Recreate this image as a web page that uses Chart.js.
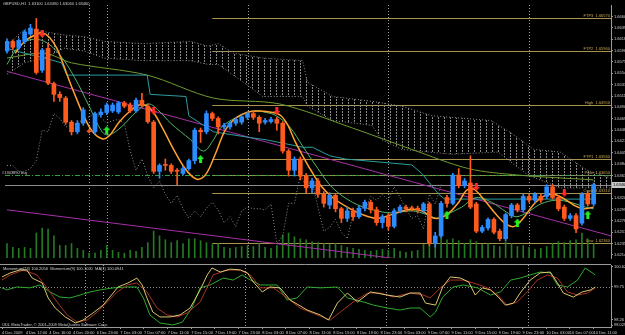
<!DOCTYPE html>
<html>
<head>
<meta charset="utf-8">
<script src="https://cdn.jsdelivr.net/npm/chart.js@4.4.0/dist/chart.umd.min.js"></script>
<style>
  html, body { margin: 0; padding: 0; background: #000; }
  #wrap { position: relative; width: 625px; height: 335px; background: #000; overflow: hidden; }
  canvas { position: absolute; left: 0; }
  #main { top: 0; }
  #mom { top: 264px; }
</style>
</head>
<body>
<div id="wrap">
  <canvas id="main" width="625" height="263"></canvas>
  <canvas id="mom" width="625" height="71"></canvas>
</div>
<script>
// GBPUSD H1 candles, bar 0 = 4 Dec 08:00
const openP = [1.6596,1.6614,1.6603,1.6614,1.6628,1.6637,1.6560,1.6601,1.6535,1.6515,
  1.6508,1.6463,1.6445,1.6461,1.6446,1.6445,1.6477,1.6481,1.6484,1.6482,
  1.6499,1.6495,1.6484,1.6504,1.6493,1.6463,1.6371,1.6383,1.6382,1.6373,
  1.6367,1.6376,1.6391,1.6448,1.6445,1.6479,1.6470,1.6454,1.6454,1.6461,
  1.6463,1.6472,1.6479,1.6472,1.6463,1.6464,1.6468,1.6461,1.6409,1.6373,
  1.6394,1.6362,1.6340,1.6353,1.6328,1.6308,1.6326,1.6301,1.6283,1.6297,
  1.6286,1.6302,1.6313,1.6299,1.6275,1.6286,1.6268,1.6297,1.6304,1.6302,
  1.6302,1.6297,1.6310,1.6236,1.6250,1.6322,1.6311,1.6364,1.6344,1.6349,
  1.6310,1.6259,1.6265,1.6281,1.6259,1.6245,1.6288,1.6308,1.6299,1.6324,
  1.6317,1.6324,1.6324,1.6342,1.6322,1.6304,1.6283,1.6288,1.6274,1.6329,
  1.6310];
const highP = [1.6619,1.6617,1.6619,1.6635,1.6646,1.6657,1.6601,1.6610,1.6538,1.6520,
  1.6511,1.6466,1.6466,1.6490,1.6450,1.6482,1.6488,1.6499,1.6499,1.6502,
  1.6502,1.6499,1.6508,1.6517,1.6497,1.6466,1.6385,1.6394,1.6385,1.6376,
  1.6380,1.6394,1.6452,1.6452,1.6484,1.6482,1.6473,1.6461,1.6464,1.6472,
  1.6477,1.6482,1.6484,1.6475,1.6470,1.6472,1.6472,1.6464,1.6412,1.6398,
  1.6398,1.6367,1.6358,1.6358,1.6333,1.6331,1.6329,1.6304,1.6304,1.6302,
  1.6306,1.6317,1.6317,1.6304,1.6290,1.6292,1.6301,1.6308,1.6308,1.6306,
  1.6306,1.6313,1.6313,1.6257,1.6315,1.6326,1.6367,1.6376,1.6358,1.6400,
  1.6313,1.6270,1.6284,1.6284,1.6263,1.6293,1.6311,1.6311,1.6328,1.6328,
  1.6331,1.6328,1.6346,1.6346,1.6326,1.6308,1.6292,1.6292,1.6331,1.6333,
  1.6349];
const lowP = [1.6592,1.6599,1.6599,1.6610,1.6625,1.6553,1.6556,1.6533,1.6502,1.6502,
  1.6459,1.6439,1.6441,1.6457,1.6443,1.6441,1.6473,1.6477,1.6481,1.6479,
  1.6490,1.6481,1.6481,1.6491,1.6461,1.6367,1.6358,1.6373,1.6367,1.6346,
  1.6364,1.6373,1.6385,1.6425,1.6441,1.6466,1.6441,1.6450,1.6450,1.6457,
  1.6459,1.6468,1.6468,1.6445,1.6459,1.6461,1.6448,1.6405,1.6362,1.6362,
  1.6355,1.6331,1.6331,1.6322,1.6304,1.6301,1.6295,1.6275,1.6277,1.6279,
  1.6283,1.6297,1.6293,1.6270,1.6265,1.6261,1.6265,1.6293,1.6295,1.6297,
  1.6293,1.6293,1.6232,1.6229,1.6247,1.6304,1.6308,1.6340,1.6340,1.6301,
  1.6256,1.6256,1.6261,1.6254,1.6241,1.6241,1.6284,1.6295,1.6295,1.6313,
  1.6313,1.6313,1.6320,1.6319,1.6297,1.6279,1.6279,1.6256,1.6270,1.6306,
  1.6306];
const closeP = [1.6614,1.6603,1.6616,1.6632,1.6639,1.6556,1.6598,1.6536,1.6515,1.6509,
  1.6463,1.6445,1.6461,1.6486,1.6445,1.6479,1.6482,1.6495,1.6495,1.6499,
  1.6493,1.6484,1.6504,1.6495,1.6464,1.6371,1.6382,1.6382,1.6371,1.6371,
  1.6376,1.6391,1.6448,1.6445,1.6479,1.6470,1.6454,1.6457,1.6461,1.6468,
  1.6473,1.6479,1.6472,1.6461,1.6466,1.6468,1.6461,1.6409,1.6373,1.6394,
  1.6362,1.6340,1.6353,1.6328,1.6311,1.6326,1.6301,1.6283,1.6297,1.6286,
  1.6302,1.6313,1.6299,1.6275,1.6286,1.6268,1.6297,1.6304,1.6301,1.6301,
  1.6299,1.6310,1.6236,1.6250,1.6311,1.6311,1.6364,1.6344,1.6353,1.6304,
  1.6259,1.6266,1.6281,1.6257,1.6245,1.6290,1.6308,1.6299,1.6324,1.6317,
  1.6328,1.6317,1.6342,1.6322,1.6301,1.6283,1.6288,1.6263,1.6328,1.6310,
  1.6346];
const volume = [1500,1100,1000,1100,1000,2600,3100,3000,2300,1300,
  1300,1500,1000,800,500,500,800,1300,800,600,
  500,800,700,1100,1600,2800,2300,1900,1600,1800,
  1500,2000,2000,1800,1600,1400,1500,1100,1000,1100,
  1200,1300,1200,1500,1100,1000,1300,2400,2600,2200,
  2000,1900,1700,1600,1500,1400,1500,1300,1100,1000,
  900,800,700,800,900,800,1000,700,600,700,
  800,1400,2600,2300,2100,1900,2000,1800,1500,1900,
  1700,1400,1500,1300,1200,1700,1500,1200,1300,1100,
  900,1000,1200,1500,1700,1600,1800,1900,2600,2000,
  1500];

// lagging span, drawn from bar 0
const chikou = [1.6382,1.6382,1.6371,1.6371,1.6376,1.6391,1.6448,1.6445,1.6479,1.6470,
  1.6454,1.6457,1.6461,1.6468,1.6473,1.6479,1.6472,1.6461,1.6466,1.6468,
  1.6461,1.6409,1.6373,1.6394,1.6362,1.6340,1.6353,1.6328,1.6311,1.6326,
  1.6301,1.6283,1.6297,1.6286,1.6302,1.6313,1.6299,1.6275,1.6286,1.6268,
  1.6297,1.6304,1.6301,1.6301,1.6299,1.6310,1.6236,1.6250,1.6311,1.6311,
  1.6364,1.6344,1.6353,1.6304,1.6259,1.6266,1.6281,1.6257,1.6245,1.6290,
  1.6308,1.6299,1.6324,1.6317,1.6328,1.6317,1.6342,1.6322,1.6301,1.6283,
  1.6288,1.6263,1.6328,1.6310,1.6346];

// indicator lines, read at bar positions
const orangeX = [1.4,3,5.1,6.1,7.3,8.5,9.5,10.7,11.8,13.2,14.6,16.2,17.4,19.1,20.8,22.5,23.9,25,26.7,28.4,30.1,31.5,32.7,34,35.5,37.2,38.9,41.1,43.1,45.3,46.7,47.9,49.1,50.4,51.8,53.5,55.5,58,60.6,63.1,65.6,68.2,70.7,72.9,75,77,78.3,79.5,81.4,83.4,85.1,86.5,88,89.7,91.4,93.2,94.9,96.6,98.3,100];
const orangeY = [1.6592,1.6614,1.6628,1.6630,1.6621,1.6601,1.6574,1.6538,1.6508,1.6472,1.6445,1.6432,1.6437,1.6463,1.6482,1.6495,1.6493,1.6481,1.6448,1.6412,1.6380,1.6362,1.6356,1.6367,1.6403,1.6448,1.6470,1.6482,1.6484,1.6481,1.6475,1.6457,1.6427,1.6400,1.6373,1.6344,1.6322,1.6304,1.6290,1.6283,1.6290,1.6299,1.6297,1.6283,1.6290,1.6313,1.6335,1.6338,1.6317,1.6290,1.6272,1.6268,1.6283,1.6308,1.6324,1.6328,1.6320,1.6308,1.6301,1.6304];
const greenX = [0,1.7,3.9,6.4,9,11.5,14,16.2,17.4,19.5,22.2,24.2,25.9,27.9,31.3,33.5,35.2,36.4,39.1,42,44.2,45.9,48.2,50.4,53,55.5,58.9,62.3,65.7,69,71.6,73.3,75.3,77.5,80,82.6,85.1,86.8,88.8,91,93.6,96.1,98.6,100];
const greenY = [1.6571,1.6601,1.6617,1.6614,1.6589,1.6547,1.6493,1.6445,1.6439,1.6454,1.6484,1.6497,1.6484,1.6461,1.6430,1.6409,1.6430,1.6452,1.6472,1.6484,1.6481,1.6475,1.6454,1.6418,1.6376,1.6340,1.6313,1.6299,1.6293,1.6297,1.6290,1.6283,1.6292,1.6304,1.6322,1.6313,1.6295,1.6286,1.6295,1.6310,1.6317,1.6313,1.6304,1.6301];
const tealX = [0,3,6.4,9.3,10.2,23.9,24.4,30.5,31,33.5,35.2,41.5,44.2,50.4,52.1,55,57.7,69,70.7,73.6,74.6,100];
const tealY = [1.6601,1.6592,1.6583,1.6574,1.6551,1.6551,1.6515,1.6511,1.6475,1.6457,1.6445,1.6434,1.6430,1.6416,1.6416,1.6400,1.6394,1.6383,1.6367,1.6328,1.6319,1.6319];
const oliveX = [0,6.4,11,23.9,35.2,46.5,58.9,69,78.7,87.1,100];
const oliveY = [1.6583,1.6592,1.6574,1.6551,1.6508,1.6497,1.6452,1.6412,1.6376,1.6364,1.6355];
const trendX = [0, 103];
const trendA = [1.6558, 1.6250];
const trendB = [1.6299, 1.6157];
const cloudTopX = [0,3,6.4,9.8,13.2,16.6,23.3,31.3,34.3,36,38.6,43.6,50.4,51.2,55.5,62.2,67.3,72.4,82.5,85.9,89.8,94.3,98.9,103];
const cloudTop = [1.6607,1.6637,1.6632,1.6626,1.6623,1.6614,1.6610,1.6614,1.6605,1.6610,1.6592,1.6583,1.6578,1.6538,1.6511,1.6502,1.6493,1.6475,1.6466,1.6443,1.6412,1.6407,1.6373,1.6358];
const cloudBotX = [0,3,6.4,9.8,13.2,16.6,23.3,31.3,34.3,36,41.4,43.6,50.4,51.2,55.5,62.2,63.9,67.3,75.8,83.7,88.8,94.3,103];
const cloudBot = [1.6553,1.6574,1.6583,1.6601,1.6596,1.6583,1.6578,1.6578,1.6571,1.6571,1.6529,1.6511,1.6511,1.6493,1.6466,1.6457,1.6430,1.6412,1.6403,1.6407,1.6364,1.6340,1.6340];
const upArrowX = [17, 33, 75, 87, 99];
const upArrowY = [1.6448, 1.6394, 1.6290, 1.6275, 1.6290];
const downArrowX = [6, 25, 46, 80, 95];
const downArrowY = [1.6628, 1.6484, 1.6484, 1.6342, 1.6331];

// horizontal levels
const levelName = ['FTP3', 'FTP2', 'High', 'FTP1', 'Pivot', 'Open', 'Low'];
const levelPrice = [1.6657, 1.6596, 1.6495, 1.6394, 1.6365, 1.6331, 1.6236];
const levelStart = 35;
const orderPrice = 1.6364;
const bidPrice = 1.6346;
const sepIdx = [14, 17, 41, 65, 89];

// momentum window
const momKhakiX = [0,1.4,3,4.2,5.1,6.8,7.8,9,10.7,12.4,13.7,15.4,17.1,18.8,19.6,21.3,22.8,23.7,24.5,25.5,26.7,28.4,30.1,31.8,33.5,34.7,35.5,36.9,38.6,40.3,41.5,42.5,44,45.3,47,48.7,51.6,53.8,55.2,56.7,58.4,60.1,62.3,65.1,67.3,69,70.7,71.6,73.3,74.5,75.8,77.5,78.9,80,81.2,82.6,83.9,85.1,86.5,87.6,89.3,91,92.7,93.9,94.9,96.6,98.1,99.5,100.3];
const momKhakiY = [100.18,100.36,100.49,100.49,100.13,99.91,99.24,98.79,98.39,98.12,98.25,98.57,98.92,99.46,99.73,99.91,100.13,99.82,99.24,98.61,98.39,98.39,98.48,98.79,99.60,100.27,100.58,100.40,100.53,100.49,100.36,99.95,99.51,99.73,99.69,99.15,98.70,98.48,98.25,99.01,99.46,99.06,99.51,99.37,99.28,99.46,99.46,99.01,98.92,99.73,100.18,100.13,99.95,99.37,99.69,99.60,99.28,98.92,99.01,99.46,100.04,100.36,100.40,99.91,99.46,99.28,99.51,99.60,99.73];
const momRedX = [0,1.4,3.6,5.9,7.6,9.3,11,12.7,14.4,16.1,17.8,19.5,21.2,22.8,24.5,26.2,27.9,29.6,31.3,33.5,35.7,38.1,40.3,42,43.7,45.9,48.2,50.4,53.3,55.5,57.2,59.4,61.8,64,66.2,69,71.2,72.4,74.1,75.8,78,79.7,82.1,83.8,85.4,87.1,88.8,90.5,92.2,93.9,95.6,97.3,99,100.3];
const momRedY = [100.04,100.27,100.49,100.27,99.69,99.06,98.48,98.16,98.25,98.61,99.06,99.51,99.82,99.91,99.51,98.79,98.48,98.39,98.57,99.06,100.27,100.49,100.49,100.27,99.69,99.69,99.24,98.79,98.48,98.25,98.61,99.06,99.46,99.46,99.28,99.46,99.37,99.24,99.69,100.04,100.04,99.91,99.69,99.37,98.92,99.06,99.51,100.04,100.27,100.13,99.51,99.37,99.46,99.69];
const momGreenX = [0,0.8,2.5,4.7,6.4,8.1,9.8,11.5,13.2,14.9,16.6,18.8,21.2,22.8,23.9,25,26.7,28.9,30.5,32.1,33.5,35.2,37.4,39.1,40.6,42,43.7,46.5,48.2,49.9,51.6,53.8,56.7,58.4,61.1,62.8,65.1,67.3,69,70.7,72.4,73.3,74.5,76.3,78,80.4,82.6,84.3,86,87.6,89.3,91,92.7,93.9,95.6,97.3,98.6,100.3];
const momGreenY = [99.69,99.60,99.73,99.69,99.82,99.51,99.28,99.24,99.37,99.51,99.60,99.69,99.73,99.73,99.24,98.48,98.12,98.03,98.16,98.79,99.69,99.82,100.13,100.04,100.27,100.04,99.82,99.82,99.15,99.24,99.73,99.69,99.73,99.24,99.06,98.92,98.79,98.70,98.79,98.79,98.39,98.61,99.28,99.73,99.82,99.69,99.37,99.51,100.04,100.13,100.27,100.40,100.36,99.82,99.73,100.04,100.58,100.27];
const momLevel = 99.75;

// axis ticks
const priceTicks = [1.66606,1.66394,1.66181,1.65969,1.65756,1.65544,1.65332,1.65119,1.64907,1.64694,1.64482,1.64270,1.64057,1.63845,1.63632,1.63420,1.63208,1.62995,1.62783,1.62570,1.62358,1.62146];
const momTicks = [100.6247, 99.75, 98.26, 98.0292];
const timeIdx = [0,4,8,12,16,20,24,28,32,36,40,44,48,52,56,60,64,68,72,76,80,84,88,92,96,100];
const timeText = ['4 Dec 2009','4 Dec 12:00','4 Dec 16:00','4 Dec 20:00','6 Dec 23:00','7 Dec 03:00','7 Dec 07:00','7 Dec 11:00','7 Dec 15:00','7 Dec 19:00','7 Dec 23:00','8 Dec 03:00','8 Dec 07:00','8 Dec 11:00','8 Dec 15:00','8 Dec 19:00','8 Dec 23:00','9 Dec 03:00','9 Dec 07:00','9 Dec 11:00','9 Dec 15:00','9 Dec 19:00','9 Dec 23:00','10 Dec 03:00','10 Dec 07:00','10 Dec 11:00'];

const titleText = 'GBPUSD,H1  1.63100 1.63490 1.63060 1.63460';
const momTitle = 'Momentum(24) 100.2056  Momentum(9) 100.1020  MA(1) 100.0941';
const orderText = '#1303890 buy';
const copyText = 'ODL MetaTrader, \u00a9 2001-2009 MetaQuotes Software Corp.';

const X_MIN = -0.34, X_MAX = 102.96;
const P_MIN = 1.62088, P_MAX = 1.66822;
const M_MIN = 97.94, M_MAX = 100.714;

const FONT = '"Liberation Sans", Arial, sans-serif';
const TXT = '#d0d0d0';
const AXIS = '#9a9a9a';
const UP = '#2a8cff';
const DOWN = '#ff5a1e';
Chart.defaults.font.family = FONT;
Chart.defaults.font.size = 4;
Chart.defaults.color = TXT;

function pts(xs, ys) {
  return xs.map((x, i) => ({x: x, y: ys[i]}));
}

function line(xs, ys, color, extra) {
  return Object.assign({
    type: 'line', data: pts(xs, ys), borderColor: color, borderWidth: 1,
    pointRadius: 0, tension: 0, fill: false
  }, extra || {});
}

function arrowIcon(color, up) {
  const c = document.createElement('canvas');
  c.width = 7; c.height = 8;
  const g = c.getContext('2d');
  g.fillStyle = color;
  g.beginPath();
  if (up) {
    g.moveTo(3.5, 0); g.lineTo(7, 4); g.lineTo(0, 4); g.closePath(); g.fill();
    g.fillRect(2, 4, 3, 4);
  } else {
    g.moveTo(3.5, 8); g.lineTo(7, 4); g.lineTo(0, 4); g.closePath(); g.fill();
    g.fillRect(2, 0, 3, 4);
  }
  return c;
}

const mainCanvas = document.getElementById('main');
const hatchCanvas = document.createElement('canvas');
hatchCanvas.width = 6; hatchCanvas.height = 3;
const hg = hatchCanvas.getContext('2d');
hg.fillStyle = '#8c8c8c';
hg.fillRect(0, 0, 1, 2);
const hatch = mainCanvas.getContext('2d').createPattern(hatchCanvas, 'repeat');

const idx = openP.map((_, i) => i);
const candleColor = idx.map(i => closeP[i] >= openP[i] ? UP : DOWN);

function vSeparators(chart) {
  const {ctx, chartArea: a, scales: {x}} = chart;
  ctx.save();
  ctx.strokeStyle = '#a0a0a0';
  ctx.lineWidth = 1;
  ctx.setLineDash([1, 2]);
  sepIdx.forEach(i => {
    const px = Math.round(x.getPixelForValue(i)) + 0.5;
    ctx.beginPath(); ctx.moveTo(px, a.top); ctx.lineTo(px, a.bottom); ctx.stroke();
  });
  ctx.restore();
}

const mainDecor = {
  id: 'mainDecor',
  beforeDatasetsDraw(chart) {
    const {ctx, chartArea: a, scales: {x, y}} = chart;
    vSeparators(chart);
    ctx.save();
    ctx.lineWidth = 1;
    ctx.strokeStyle = '#a8924e';
    const x0 = x.getPixelForValue(levelStart);
    levelPrice.forEach(p => {
      const py = Math.round(y.getPixelForValue(p)) + 0.5;
      ctx.beginPath(); ctx.moveTo(x0, py); ctx.lineTo(a.right, py); ctx.stroke();
    });
    let py = Math.round(y.getPixelForValue(orderPrice)) + 0.5;
    ctx.strokeStyle = '#2f9e44';
    ctx.setLineDash([5, 2, 1, 2]);
    ctx.beginPath(); ctx.moveTo(a.left, py); ctx.lineTo(a.right, py); ctx.stroke();
    py = Math.round(y.getPixelForValue(bidPrice)) + 0.5;
    ctx.setLineDash([]);
    ctx.strokeStyle = '#8c8c8c';
    ctx.beginPath(); ctx.moveTo(a.left, py); ctx.lineTo(a.right, py); ctx.stroke();
    ctx.restore();
  },
  afterDraw(chart) {
    const {ctx, chartArea: a, scales: {y}} = chart;
    ctx.save();
    ctx.font = '4px ' + FONT;
    ctx.fillStyle = TXT;
    ctx.textBaseline = 'top';
    ctx.fillText(titleText, 3, 2);
    ctx.textBaseline = 'bottom';
    ctx.fillText(orderText, 2, Math.round(y.getPixelForValue(orderPrice)));
    ctx.fillStyle = '#c8a850';
    ctx.textAlign = 'right';
    levelPrice.forEach((p, i) => {
      ctx.fillText(levelName[i] + '  ' + p.toFixed(5), a.right - 1, Math.round(y.getPixelForValue(p)));
    });
    const py = Math.round(y.getPixelForValue(bidPrice));
    ctx.fillStyle = '#c8c8c8';
    ctx.fillRect(a.right + 1, py - 3, 14, 6);
    ctx.fillStyle = '#000';
    ctx.textAlign = 'left';
    ctx.textBaseline = 'middle';
    ctx.fillText(bidPrice.toFixed(5), a.right + 2, py);
    ctx.restore();
  }
};

const momDecor = {
  id: 'momDecor',
  beforeDatasetsDraw(chart) {
    const {ctx, chartArea: a, scales: {y}} = chart;
    vSeparators(chart);
    ctx.save();
    ctx.strokeStyle = AXIS;
    ctx.lineWidth = 1;
    ctx.beginPath(); ctx.moveTo(0, 0.5); ctx.lineTo(a.right, 0.5); ctx.stroke();
    ctx.strokeStyle = '#8a8a8a';
    ctx.setLineDash([1, 2]);
    const py = Math.round(y.getPixelForValue(momLevel)) + 0.5;
    ctx.beginPath(); ctx.moveTo(a.left, py); ctx.lineTo(a.right, py); ctx.stroke();
    ctx.restore();
  },
  afterDraw(chart) {
    const {ctx} = chart;
    ctx.save();
    ctx.font = '4px ' + FONT;
    ctx.fillStyle = TXT;
    ctx.textBaseline = 'top';
    ctx.fillText(momTitle, 3, 2.5);
    ctx.textBaseline = 'bottom';
    ctx.fillText(copyText, 2, 62.5);
    ctx.restore();
  }
};

const yRight = (min, max, ticks, fmt) => ({
  position: 'right', min: min, max: max,
  afterFit: s => { s.width = 14; s.paddingTop = 0; s.paddingBottom = 0; },
  afterBuildTicks: s => { s.ticks = ticks.map(v => ({value: v})); },
  ticks: {autoSkip: false, padding: 1, color: TXT, callback: fmt},
  grid: {drawOnChartArea: false, tickLength: 2, color: AXIS},
  border: {color: AXIS}
});

new Chart(mainCanvas, {
  type: 'line',
  data: {
    datasets: [
      {type: 'scatter', data: pts(upArrowX, upArrowY), pointStyle: arrowIcon('#22ee22', true), pointRadius: 4, order: 0},
      {type: 'scatter', data: pts(downArrowX, downArrowY), pointStyle: arrowIcon('#ff2a2a', false), pointRadius: 4, order: 0},
      {type: 'bar', data: idx.map(i => ({x: i, y: [openP[i], closeP[i]]})), backgroundColor: candleColor,
        barThickness: 4, minBarLength: 1, grouped: false, borderWidth: 0, order: 1},
      {type: 'bar', data: idx.map(i => ({x: i, y: [lowP[i], highP[i]]})), backgroundColor: candleColor,
        barThickness: 1, grouped: false, borderWidth: 0, order: 2},
      line(orangeX, orangeY, '#ffa030', {tension: 0.35, borderWidth: 1.5, order: 3}),
      line(greenX, greenY, '#4fb86a', {tension: 0.35, order: 4}),
      line(tealX, tealY, '#2a9e9e', {order: 5}),
      line(oliveX, oliveY, '#6f9a2e', {tension: 0.3, order: 6}),
      line(idx.slice(0, chikou.length), chikou, '#8c8c8c', {borderDash: [1, 2], order: 7}),
      line(trendX, trendA, '#a62fa6', {order: 8}),
      line(trendX, trendB, '#a62fa6', {order: 8}),
      {type: 'bar', yAxisID: 'yv', data: idx.map(i => ({x: i, y: volume[i]})), backgroundColor: '#237a23',
        barThickness: 1, grouped: false, borderWidth: 0, order: 9},
      line(cloudTopX, cloudTop, '#8c8c8c', {borderDash: [1, 2], fill: '+1', backgroundColor: hatch, order: 10}),
      line(cloudBotX, cloudBot, '#8c8c8c', {borderDash: [1, 2], order: 11})
    ]
  },
  options: {
    animation: false, responsive: false, events: [],
    layout: {padding: 0},
    plugins: {legend: {display: false}, tooltip: {enabled: false}},
    scales: {
      x: {type: 'linear', min: X_MIN, max: X_MAX, display: false, offset: false},
      y: yRight(P_MIN, P_MAX, priceTicks, v => v.toFixed(5)),
      yv: {type: 'linear', axis: 'y', display: false, min: 0, max: 26300}
    }
  },
  plugins: [mainDecor]
});

new Chart(document.getElementById('mom'), {
  type: 'line',
  data: {
    datasets: [
      line(momKhakiX, momKhakiY, '#d8c86e'),
      line(momRedX, momRedY, '#a83228'),
      line(momGreenX, momGreenY, '#2eaa2e')
    ]
  },
  options: {
    animation: false, responsive: false, events: [],
    layout: {padding: {top: 1, left: 0, right: 0, bottom: 0}},
    plugins: {legend: {display: false}, tooltip: {enabled: false}},
    scales: {
      x: {
        type: 'linear', min: X_MIN, max: X_MAX, position: 'bottom', offset: false,
        afterFit: s => { s.height = 8; s.paddingLeft = 0; s.paddingRight = 0; },
        afterBuildTicks: s => { s.ticks = timeIdx.map(v => ({value: v})); },
        ticks: {autoSkip: false, maxRotation: 0, minRotation: 0, align: 'start', padding: 1, color: TXT,
          callback: (v, i) => timeText[i]},
        grid: {drawOnChartArea: false, tickLength: 2, color: AXIS},
        border: {color: AXIS}
      },
      y: yRight(M_MIN, M_MAX, momTicks, v => String(v))
    }
  },
  plugins: [momDecor]
});
</script>
</body>
</html>
